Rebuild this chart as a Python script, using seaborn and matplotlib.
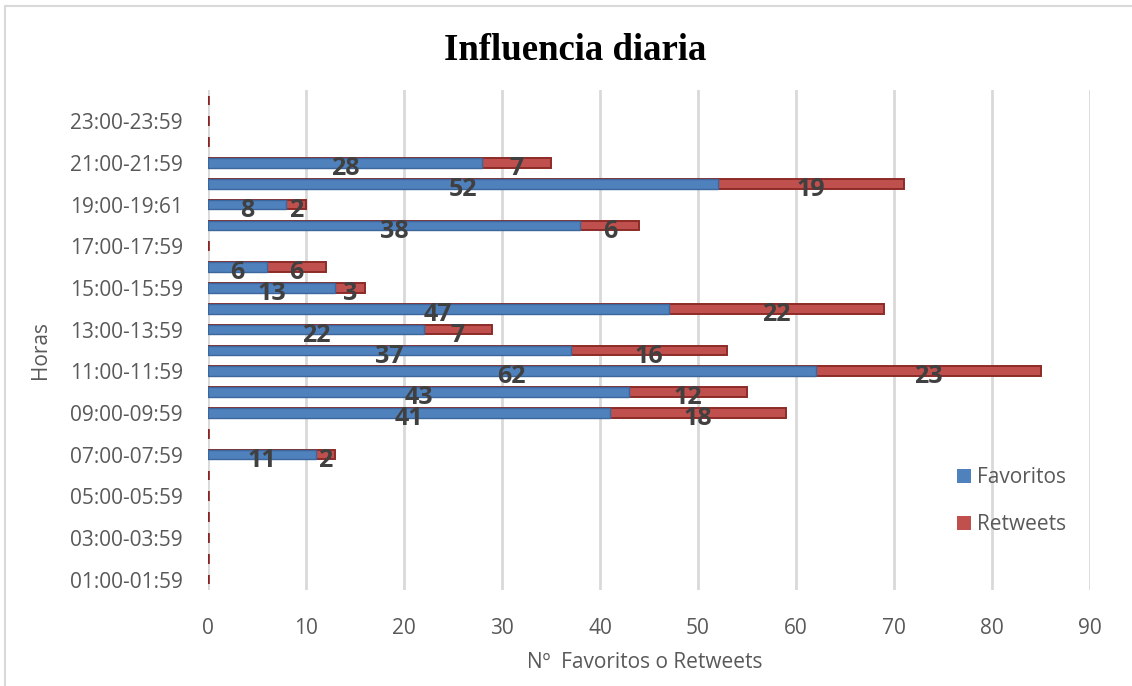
import matplotlib
matplotlib.use("Agg")
import matplotlib.pyplot as plt
from matplotlib.patches import Patch, Rectangle
import pandas as pd
import seaborn as sns

# Hour slots (bottom to top) and counts per slot
horas = [
    "01:00-01:59", "02:00-02:59", "03:00-03:59", "04:00-04:59",
    "05:00-05:59", "06:00-06:59", "07:00-07:59", "08:00-08:59",
    "09:00-09:59", "10:00-10:59", "11:00-11:59", "12:00-12:59",
    "13:00-13:59", "14:00-14:59", "15:00-15:59", "16:00-16:59",
    "17:00-17:59", "18:00-18:59", "19:00-19:61", "20:00-20:59",
    "21:00-21:59", "22:00-22:59", "23:00-23:59", "00:00-00:59",
]
favoritos = [0, 0, 0, 0, 0, 0, 11, 0, 41, 43, 62, 37,
             22, 47, 13, 6, 0, 38, 8, 52, 28, 0, 0, 0]
retweets = [0, 0, 0, 0, 0, 0, 2, 0, 18, 12, 23, 16,
            7, 22, 3, 6, 0, 6, 2, 19, 7, 0, 0, 0]
x_ticks = [0, 10, 20, 30, 40, 50, 60, 70, 80, 90]

AZUL = "#4F81BD"
AZUL_OSC = "#3B679C"
ROJO = "#C0504D"
ROJO_OSC = "#8C2B28"
GRIS_TXT = "#595959"
GRIS_NUM = "#404040"
GRIS_LIN = "#D9D9D9"

sns.set_style("white")
plt.rcParams["font.family"] = ["Open Sans", "DejaVu Sans"]

df = pd.DataFrame({"hora": horas, "fav": favoritos, "rt": retweets})
df["total"] = df["fav"] + df["rt"]
orden = horas[::-1]  # first category drawn at the top

W, H = 1132, 686
fig = plt.figure(figsize=(W / 100, H / 100), dpi=100)
ax = fig.add_axes([208 / W, (H - 590) / H, 882 / W, 500 / H])

# stacked bars: the total in red underneath, favourites in blue on top
sns.barplot(data=df, x="total", y="hora", order=orden, orient="h",
            color=ROJO, saturation=1, width=0.47, edgecolor=ROJO_OSC,
            linewidth=1.4, ax=ax, errorbar=None)
n_rt = len(ax.patches)
for p in ax.patches[:n_rt]:
    if p.get_width() == 0:
        # empty slots show only the dark side face of the bar
        p.set_linewidth(2.6)
        p.set_edgecolor("#8B2222")
sns.barplot(data=df, x="fav", y="hora", order=orden, orient="h",
            color=AZUL, saturation=1, width=0.47, edgecolor=AZUL_OSC,
            linewidth=1.0, ax=ax, errorbar=None)
for p in ax.patches[n_rt:]:
    if p.get_width() == 0:
        p.set_linewidth(0)

# value labels
pos = {h: i for i, h in enumerate(orden)}
for h, f, r in zip(horas, favoritos, retweets):
    y = pos[h] + 0.27
    if f > 0:
        ax.text(f / 2, y, str(f), ha="center", va="center",
                fontsize=18, fontweight="bold", color=GRIS_NUM, zorder=5)
    if r > 0:
        ax.text(f + r / 2, y, str(r), ha="center", va="center",
                fontsize=18, fontweight="bold", color=GRIS_NUM, zorder=5)

ax.set_xlim(0, 90)
ax.set_ylim(23.5, -0.5)
ax.set_xticks(x_ticks)
ax.set_xticklabels([str(v) for v in x_ticks])
ax.set_yticks([pos[h] for h in horas[0::2]])
ax.set_yticklabels(horas[0::2])
ax.tick_params(axis="both", length=0, labelsize=15, colors=GRIS_TXT)
ax.tick_params(axis="y", pad=18)
ax.tick_params(axis="x", pad=20)
ax.xaxis.grid(True, color=GRIS_LIN, linewidth=2)
ax.yaxis.grid(False)
ax.set_axisbelow(True)
for s in ax.spines.values():
    s.set_visible(False)
ax.set_xlabel("")
ax.set_ylabel("")

fig.text(575 / W, 1 - 51 / H, "Influencia diaria", ha="center", va="center",
         fontsize=26.5, fontweight="bold", family=["Liberation Serif"],
         color="black")
fig.text(40 / W, 1 - 350 / H, "Horas", rotation=90, ha="center",
         va="center", fontsize=15, color=GRIS_TXT)
fig.text(645 / W, 1 - 663 / H, "Nº  Favoritos o Retweets", ha="center",
         va="center", fontsize=15, color=GRIS_TXT)

handles = [Patch(facecolor=AZUL, edgecolor="none", label="Favoritos"),
           Patch(facecolor=ROJO, edgecolor="none", label="Retweets")]
fig.legend(handles=handles, loc="center left",
           bbox_to_anchor=(957 / W, 1 - 501 / H), frameon=False,
           fontsize=15, handlelength=0.68, handleheight=0.68,
           handletextpad=0.3, labelspacing=1.25, borderpad=0,
           borderaxespad=0, labelcolor=GRIS_TXT)

# chart area outline
fig.patches.append(Rectangle((5 / W, -0.1), 1.2, 1.1 - 6 / H,
                             transform=fig.transFigure, fill=False,
                             edgecolor=GRIS_LIN, linewidth=1.5))

fig.savefig("out.png", dpi=100)
